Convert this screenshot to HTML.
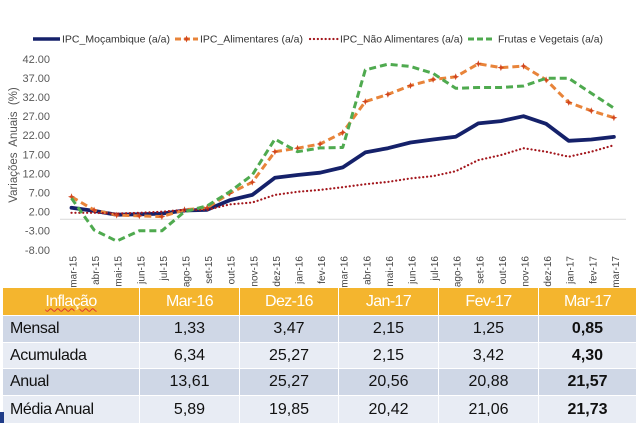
<!DOCTYPE html>
<html><head><meta charset="utf-8">
<style>
html,body{margin:0;padding:0;background:#fff;}
body{width:640px;height:423px;position:relative;overflow:hidden;font-family:"Liberation Sans",Arial,sans-serif;}
svg{position:absolute;left:0;top:0;}
.grid{position:absolute;left:3px;top:288px;display:grid;grid-template-columns:136px 99px 98px 99px 99px 97px;grid-template-rows:27px 26px 25px 26px 27px;gap:1px;background:#fff;}
.grid div{display:flex;align-items:center;justify-content:center;font-size:16px;color:#111;}
.h{background:#F4B52E;color:#fff !important;letter-spacing:-0.6px;}
.d{background:#CFD7E6;}
.l{background:#E8ECF4;}
.grid div.t{justify-content:flex-start;padding-left:7px;letter-spacing:-0.4px;}
.b{font-weight:bold;}
.wavy{text-decoration:underline wavy #d33;text-decoration-thickness:1px;text-underline-offset:2px;}
</style></head><body>
<svg width="640" height="290" viewBox="0 0 640 290" font-family="Liberation Sans, Arial, sans-serif">
  <!-- legend -->
  <g font-size="10.5" fill="#333">
    <line x1="33" y1="39" x2="60" y2="39" stroke="#15216A" stroke-width="3.5"/>
    <text x="62" y="42.7" textLength="108" lengthAdjust="spacingAndGlyphs">IPC_Moçambique (a/a)</text>
    <line x1="175" y1="39" x2="198" y2="39" stroke="#E8843A" stroke-width="3" stroke-dasharray="6,3"/>
    <path d="M186.5 35.5 L188 39 L186.5 42.5 L185 39 Z M183 39 L186.5 37.8 L190 39 L186.5 40.2Z" fill="#D2461E"/>
    <text x="200" y="42.7" textLength="103" lengthAdjust="spacingAndGlyphs">IPC_Alimentares (a/a)</text>
    <line x1="310" y1="39" x2="338" y2="39" stroke="#A3161C" stroke-width="2.2" stroke-dasharray="0.1,3.8" stroke-linecap="round"/>
    <text x="340" y="42.7" textLength="123" lengthAdjust="spacingAndGlyphs">IPC_Não Alimentares (a/a)</text>
    <line x1="468" y1="39" x2="495" y2="39" stroke="#4FAA4F" stroke-width="3" stroke-dasharray="6,3"/>
    <text x="498" y="42.7" textLength="105" lengthAdjust="spacingAndGlyphs">Frutas e Vegetais (a/a)</text>
  </g>
  <!-- y axis title -->
  <text transform="translate(17,145) rotate(-90)" text-anchor="middle" font-size="11.5" fill="#555" xml:space="preserve">Variações  Anuais  (%)</text>
  <!-- y tick labels -->
  <g font-size="11" fill="#595959" text-anchor="end">
    <text x="50" y="62.8">42.00</text>
    <text x="50" y="81.9">37.00</text>
    <text x="50" y="101.0">32.00</text>
    <text x="50" y="120.1">27.00</text>
    <text x="50" y="139.2">22.00</text>
    <text x="50" y="158.3">17.00</text>
    <text x="50" y="177.4">12.00</text>
    <text x="50" y="196.5">7.00</text>
    <text x="50" y="215.6">2.00</text>
    <text x="50" y="234.7">-3.00</text>
    <text x="50" y="253.8">-8.00</text>
  </g>
  <!-- zero line -->
  <line x1="60" y1="219.3" x2="626" y2="219.3" stroke="#d9d9d9" stroke-width="1"/>
  <!-- x labels -->
  <g font-size="10" fill="#444" text-anchor="end">
    <text transform="translate(76.5,256) rotate(-90)">mar-15</text>
    <text transform="translate(99.1,256) rotate(-90)">abr-15</text>
    <text transform="translate(121.7,256) rotate(-90)">mai-15</text>
    <text transform="translate(144.3,256) rotate(-90)">jun-15</text>
    <text transform="translate(166.9,256) rotate(-90)">jul-15</text>
    <text transform="translate(189.5,256) rotate(-90)">ago-15</text>
    <text transform="translate(212.1,256) rotate(-90)">set-15</text>
    <text transform="translate(234.7,256) rotate(-90)">out-15</text>
    <text transform="translate(257.3,256) rotate(-90)">nov-15</text>
    <text transform="translate(279.9,256) rotate(-90)">dez-15</text>
    <text transform="translate(302.5,256) rotate(-90)">jan-16</text>
    <text transform="translate(325.1,256) rotate(-90)">fev-16</text>
    <text transform="translate(347.7,256) rotate(-90)">mar-16</text>
    <text transform="translate(370.3,256) rotate(-90)">abr-16</text>
    <text transform="translate(392.9,256) rotate(-90)">mai-16</text>
    <text transform="translate(415.5,256) rotate(-90)">jun-16</text>
    <text transform="translate(438.1,256) rotate(-90)">jul-16</text>
    <text transform="translate(460.7,256) rotate(-90)">ago-16</text>
    <text transform="translate(483.3,256) rotate(-90)">set-16</text>
    <text transform="translate(505.9,256) rotate(-90)">out-16</text>
    <text transform="translate(528.5,256) rotate(-90)">nov-16</text>
    <text transform="translate(551.1,256) rotate(-90)">dez-16</text>
    <text transform="translate(573.7,256) rotate(-90)">jan-17</text>
    <text transform="translate(596.3,256) rotate(-90)">fev-17</text>
    <text transform="translate(618.9,256) rotate(-90)">mar-17</text>
  </g>
  <!-- navy -->
  <polyline fill="none" stroke="#15216A" stroke-width="3.8" stroke-linejoin="round" stroke-linecap="round"
   points="71.5,207.8 94.1,210.9 116.7,214.7 139.3,214.3 161.9,213.6 184.5,210.5 207.1,209.8 229.7,200.2 252.3,194.9 274.9,177.7 297.5,175.0 320.1,172.7 342.7,167.4 365.3,152.4 387.9,148.2 410.5,142.5 433.1,139.5 455.7,136.8 478.3,123.4 500.9,121.1 523.5,116.2 546.1,123.8 568.7,140.8 591.3,139.5 613.9,136.9"/>
  <!-- orange -->
  <polyline fill="none" stroke="#E8843A" stroke-width="3" stroke-dasharray="7,4" stroke-linejoin="round"
   points="71.5,196.8 94.1,210.1 116.7,215.1 139.3,215.9 161.9,216.6 184.5,209.8 207.1,207.8 229.7,193.3 252.3,182.2 274.9,151.7 297.5,148.2 320.1,144.0 342.7,132.6 365.3,101.6 387.9,94.4 410.5,85.6 433.1,79.5 455.7,76.8 478.3,63.8 500.9,67.6 523.5,66.1 546.1,79.9 568.7,102.4 591.3,110.8 613.9,117.7"/>
  <defs>
    <path id="mk" d="M0 -3.5 L1.3 0 L0 3.5 L-1.3 0 Z M-3.5 0 L0 -1.3 L3.5 0 L0 1.3 Z" fill="#D2461E"/>
  </defs>
  <g>
    <use href="#mk" x="71.5" y="196.8"/><use href="#mk" x="94.1" y="210.1"/><use href="#mk" x="116.7" y="215.1"/><use href="#mk" x="139.3" y="215.9"/><use href="#mk" x="161.9" y="216.6"/><use href="#mk" x="184.5" y="209.8"/><use href="#mk" x="207.1" y="207.8"/><use href="#mk" x="229.7" y="193.3"/><use href="#mk" x="252.3" y="182.2"/><use href="#mk" x="274.9" y="151.7"/><use href="#mk" x="297.5" y="148.2"/><use href="#mk" x="320.1" y="144.0"/><use href="#mk" x="342.7" y="132.6"/><use href="#mk" x="365.3" y="101.6"/><use href="#mk" x="387.9" y="94.4"/><use href="#mk" x="410.5" y="85.6"/><use href="#mk" x="433.1" y="79.5"/><use href="#mk" x="455.7" y="76.8"/><use href="#mk" x="478.3" y="63.8"/><use href="#mk" x="500.9" y="67.6"/><use href="#mk" x="523.5" y="66.1"/><use href="#mk" x="546.1" y="79.9"/><use href="#mk" x="568.7" y="102.4"/><use href="#mk" x="591.3" y="110.8"/><use href="#mk" x="613.9" y="117.7"/>
  </g>
  <!-- red dotted -->
  <polyline fill="none" stroke="#A3161C" stroke-width="2.2" stroke-dasharray="0.1,3.8" stroke-linecap="round" stroke-linejoin="round"
   points="71.5,212.8 94.1,212.8 116.7,213.6 139.3,212.8 161.9,211.7 184.5,209.8 207.1,209.8 229.7,204.4 252.3,202.5 274.9,194.9 297.5,191.8 320.1,189.9 342.7,187.2 365.3,184.2 387.9,181.9 410.5,178.4 433.1,176.1 455.7,171.2 478.3,160.1 500.9,155.1 523.5,148.2 546.1,151.7 568.7,156.7 591.3,151.7 613.9,145.2"/>
  <!-- green -->
  <polyline fill="none" stroke="#4FAA4F" stroke-width="3" stroke-dasharray="7,4" stroke-linejoin="round"
   points="71.5,198.3 94.1,230.0 116.7,241.1 139.3,230.8 161.9,230.8 184.5,211.7 207.1,205.9 229.7,191.8 252.3,175.0 274.9,139.1 297.5,151.7 320.1,147.9 342.7,147.5 365.3,69.9 387.9,64.2 410.5,66.5 433.1,73.4 455.7,88.3 478.3,87.5 500.9,87.5 523.5,86.0 546.1,78.3 568.7,78.3 591.3,93.2 613.9,108.1"/>
</svg>

<div class="grid">
  <div class="h"><span class="wavy">Inflação</span></div>
  <div class="h">Mar-16</div>
  <div class="h">Dez-16</div>
  <div class="h">Jan-17</div>
  <div class="h">Fev-17</div>
  <div class="h">Mar-17</div>

  <div class="d t">Mensal</div>
  <div class="d">1,33</div>
  <div class="d">3,47</div>
  <div class="d">2,15</div>
  <div class="d">1,25</div>
  <div class="d b">0,85</div>

  <div class="l t">Acumulada</div>
  <div class="l">6,34</div>
  <div class="l">25,27</div>
  <div class="l">2,15</div>
  <div class="l">3,42</div>
  <div class="l b">4,30</div>

  <div class="d t">Anual</div>
  <div class="d">13,61</div>
  <div class="d">25,27</div>
  <div class="d">20,56</div>
  <div class="d">20,88</div>
  <div class="d b">21,57</div>

  <div class="l t">Média Anual</div>
  <div class="l">5,89</div>
  <div class="l">19,85</div>
  <div class="l">20,42</div>
  <div class="l">21,06</div>
  <div class="l b">21,73</div>
</div>
<div style="position:absolute;left:0;top:412px;width:4px;height:11px;background:#1F3C88;"></div>
</body></html>
